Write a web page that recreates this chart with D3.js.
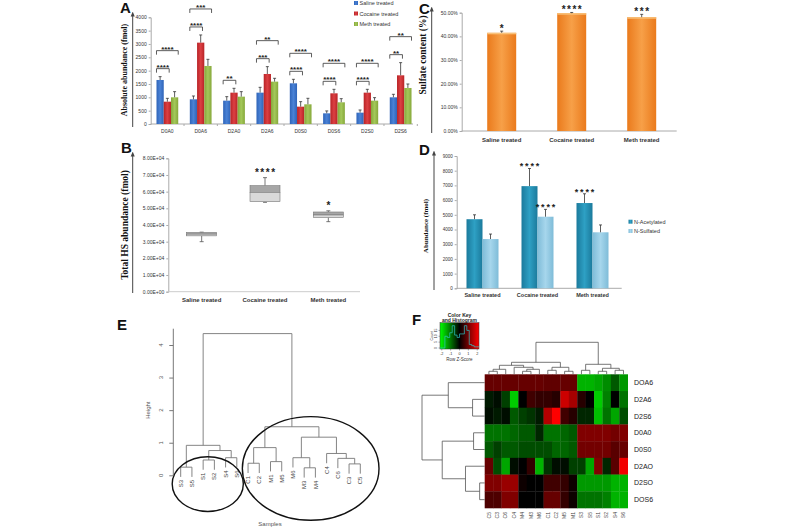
<!DOCTYPE html>
<html><head><meta charset="utf-8">
<script src="https://cdn.jsdelivr.net/npm/d3@7"></script>
<style>body{margin:0;background:#fff} svg{display:block}</style>
</head><body>
<svg id="c" width="800" height="530"></svg>
<script>
// ---------------- DATA ----------------
// Panel A
const catsA = ["D0A0","D0A6","D2A0","D2A6","D0S0","D0S6","D2S0","D2S6"];
const seriesA = ["Saline treated","Cocaine treated","Meth treated"];
const salineA = [1650, 925, 875, 1175, 1525, 400, 425, 1000];
const cocaineA = [837, 3050, 1175, 1875, 650, 1150, 1175, 1825];
const methA = [1000, 2175, 1025, 1588, 738, 813, 875, 1350];
const salineErrA = [125, 125, 150, 200, 150, 90, 100, 113];
const cocaineErrA = [125, 288, 163, 275, 188, 150, 125, 475];
const methErrA = [213, 250, 188, 125, 225, 137, 113, 150];
const sigLowA = ["****","****","**","***","****","****","****","**"];
const sigHighA = ["****","***","","**","****","****","****","**"];
const ticksA = [0,500,1000,1500,2000,2500,3000,3500,4000];
// Panel B
const groupsB = ["Saline treated","Cocaine treated","Meth treated"];
const minB = [30000, 53600, 42000];
const q1B = [33500, 54000, 44500];
const medB = [34500, 59600, 46000];
const q3B = [35500, 63600, 47800];
const maxB = [35700, 68400, 48500];
const sigB = ["", "****", "*"];
const ticksB = [0,10000,20000,30000,40000,50000,60000,70000,80000];
// Panel C
const groupsC = ["Saline treated","Cocaine treated","Meth treated"];
const sulfateC = [41.5, 49.8, 48.1];
const errC = [0.7, 0.3, 1.2];
const sigC = ["*","****","***"];
const ticksC = [0,10,20,30,40,50];
// Panel D
const groupsD = ["Saline treated","Cocaine treated","Meth treated"];
const seriesD = ["N-Acetylated","N-Sulfated"];
const acetylD = [4700, 6950, 5800];
const acetylErrD = [300, 1200, 630];
const sulfD = [3350, 4870, 3810];
const sulfErrD = [340, 500, 500];
const sigAcD = ["", "****", "****"];
const sigSuD = ["", "****", ""];
const ticksD = [0,1000,2000,3000,4000,5000,6000,7000,8000,9000];
// Panel E (hclust-style merges: negative = leaf, positive = earlier merge)
const leavesE = ["S3","S5","S1","S2","S4","S6","C1","C2","M1","M5","M6","M3","M4","C4","C6","C3","C5"];
const mergesE = [[-1,-2,0.25],[-3,-4,0.47],[-5,-6,0.54],[2,3,0.76],[1,4,0.92],
  [-7,-8,0.37],[-9,-10,0.42],[6,7,0.85],[-12,-13,0.23],[-11,9,0.54],
  [-16,-17,0.35],[-15,11,0.52],[-14,12,0.67],[10,13,1.17],[8,14,1.49],[5,15,4.35]];
const ticksE = [0,1,2,3,4];
// Panel F
const heatRows = ["DOA6","D2A6","D2S6","D0A0","D0S0","D2AO","D2SO","DOS6"];
const heatCols = ["C5","C3","C6","C4","M4","M3","M6","C1","C2","M5","M1","S3","S5","S1","S2","S4","S6"];
const heatValues = [
  [0.8,0.8,0.8,0.8,0.8,0.8,0.8,0.75,0.75,0.8,0.8,-1.4,-1.4,-1.3,-1.1,-0.7,-1.2],
  [-0.2,-0.1,-0.5,-1.6,0.0,0.5,0.4,0.4,0.3,1.6,1.3,0.3,0.0,-1.6,-1.0,0.0,-0.9],
  [-0.1,-0.2,-0.1,-0.7,-0.5,-0.4,-0.2,1.4,2.0,0.5,0.3,-0.3,-0.3,-1.5,-0.9,-1.3,-0.6],
  [-0.9,-0.9,-0.9,-0.8,-0.7,-0.7,-0.3,-0.9,-0.9,-0.8,-0.7,1.0,1.0,1.0,1.0,0.9,1.0],
  [-0.7,-0.5,-0.7,-0.7,-0.6,-0.6,-0.6,-0.6,-0.8,-0.8,-0.7,0.9,0.9,0.9,0.9,0.7,0.8],
  [0.8,-0.6,-1.3,-0.1,0.0,0.4,-1.4,-0.4,-0.1,-0.1,-0.5,-0.5,-1.3,1.0,-0.3,0.7,1.9],
  [1.0,1.0,1.2,1.2,0.1,0.0,0.0,0.5,0.5,0.4,0.1,-1.2,-1.2,-1.2,-1.2,-1.4,-1.4],
  [0.6,0.6,1.0,1.0,0.0,0.0,0.0,0.8,0.8,0.4,0.1,-0.9,-0.9,-0.9,-1.0,-1.4,-1.4]];
const colMerges = [[-1,-2,3],[1,-3,5],[-5,-6,3],[3,-7,5],[-4,4,7],[2,5,9],[-8,-9,4],[-10,-11,3],
  [7,8,7],[6,9,12],[-12,-13,4],[-14,-15,3],[-16,-17,4],[12,13,6],[11,14,10],[10,15,32]];
const rowMerges = [[-2,-3,12],[-1,1,36],[-4,-5,11],[-7,-8,5],[-6,4,19],[3,5,42],[2,6,62]];
const keyTicks = [-2,-1,0,1,2];

// ---------------- DRAW ----------------
const svg = d3.select("#c");
const sans = "'Liberation Sans', Arial, sans-serif";
const serif = "'Liberation Serif', 'Times New Roman', serif";
const defs = svg.append("defs");
defs.append("marker").attr("id","arr").attr("viewBox","0 0 10 10").attr("refX",5).attr("refY",5)
  .attr("markerWidth",5).attr("markerHeight",5).attr("orient","auto")
  .append("path").attr("d","M0,1 L10,5 L0,9 z").attr("fill","#444");

function grad(id, c1, c2, c3){
  const g = defs.append("linearGradient").attr("id",id).attr("x1","0").attr("x2","1").attr("y1","0").attr("y2","0");
  g.append("stop").attr("offset","0").attr("stop-color",c1);
  g.append("stop").attr("offset","0.5").attr("stop-color",c2);
  g.append("stop").attr("offset","1").attr("stop-color",c3);
}
grad("gBlue","#2f64b8","#4a82d6","#2f64b8");
grad("gRed","#b82326","#dc4043","#b82326");
grad("gGreen","#86a83a","#a4c85a","#86a83a");
grad("gOrange","#ea7a1c","#f7a048","#ea7a1c");
grad("gTeal","#1b7a9c","#2ea0c4","#1b7a9c");
grad("gLight","#7fbcd8","#a6d6ec","#7fbcd8");
const fmtInt = d3.format("d");

function label(t, x, y){ svg.append("text").attr("x",x).attr("y",y).text(t)
  .attr("font-family",sans).attr("font-weight","bold").attr("font-size",15).attr("fill","#111"); }
function arrowLine(x, yb, yt){ svg.append("line").attr("x1",x).attr("x2",x).attr("y1",yb).attr("y2",yt)
  .attr("stroke","#444").attr("stroke-width",1).attr("marker-end","url(#arr)"); }
function yTitle(t, x, y, size){ svg.append("text").attr("transform",`translate(${x},${y}) rotate(-90)`)
  .attr("text-anchor","middle").attr("font-family",serif).attr("font-weight","bold").attr("font-size",size).attr("fill","#111").text(t); }
function styleAxis(g, fs){
  g.select(".domain").attr("stroke","#aaa");
  g.selectAll(".tick line").attr("stroke","#aaa");
  g.selectAll(".tick text").attr("font-family",sans).attr("font-size",fs).attr("fill","#333");
}
function xAxisExcel(scale, y, x0, x1, fs, bold){
  svg.append("line").attr("x1",x0).attr("x2",x1).attr("y1",y).attr("y2",y).attr("stroke","#aaa");
  scale.domain().forEach(d=>{
    const xb = scale(d) + scale.bandwidth();
    svg.append("line").attr("x1",xb).attr("x2",xb).attr("y1",y).attr("y2",y+2).attr("stroke","#aaa");
    svg.append("text").attr("x",scale(d)+scale.bandwidth()/2).attr("y",y+8.5).attr("text-anchor","middle")
      .attr("font-family",sans).attr("font-size",fs).attr("font-weight",bold?"bold":"normal").attr("fill","#333").text(d);
  });
}
function errBar(x, y0, y1, cap){
  svg.append("line").attr("x1",x).attr("x2",x).attr("y1",y0).attr("y2",y1).attr("stroke","#333").attr("stroke-width",0.8);
  svg.append("line").attr("x1",x-cap).attr("x2",x+cap).attr("y1",y1).attr("y2",y1).attr("stroke","#333").attr("stroke-width",0.8);
}
function stars(t, x, yc, fs, ls){
  if(!t) return;
  svg.append("text").attr("x",x + ls/2).attr("y",yc + fs*0.55).attr("text-anchor","middle")
    .attr("font-family",sans).attr("font-weight","bold").attr("font-size",fs).attr("letter-spacing",ls).attr("fill","#222").text(t);
}

// ---- Panel A ----
label("A", 120, 13);
const xA = d3.scaleBand().domain(catsA).range([150.7, 417.3]);
const xsA = d3.scaleBand().domain(seriesA).range([0, xA.bandwidth()]).paddingInner(0).paddingOuter(0.8);
const yA = d3.scaleLinear().domain([0,4000]).range([124, 17.3]);
const valsA = [salineA, cocaineA, methA], errsA = [salineErrA, cocaineErrA, methErrA];
const fillsA = ["url(#gBlue)","url(#gRed)","url(#gGreen)"];
const gA = svg.append("g").attr("transform","translate(150.7,0)")
  .call(d3.axisLeft(yA).tickValues(ticksA).tickSize(2).tickPadding(2).tickFormat(fmtInt));
styleAxis(gA, 5);
arrowLine(132.7, 127, 14);
yTitle("Absolute abundance (fmol)", 127, 70, 8);
xAxisExcel(xA, 124, 150.7, 413, 5, false);
catsA.forEach((c,i)=>{
  seriesA.forEach((s,j)=>{
    const x = xA(c)+xsA(s), v = valsA[j][i];
    svg.append("rect").attr("x",x).attr("y",yA(v)).attr("width",xsA.bandwidth()).attr("height",yA(0)-yA(v)).attr("fill",fillsA[j]);
    errBar(x+xsA.bandwidth()/2, yA(v), yA(v+errsA[j][i]), 1.5);
  });
  const bw = xsA.bandwidth();
  const xb = xA(c)+xsA(seriesA[0]), xr = xA(c)+xsA(seriesA[1]), xg = xA(c)+xsA(seriesA[2]);
  const low = yA(Math.max(salineA[i]+salineErrA[i], cocaineA[i]+cocaineErrA[i])) - 8;
  const high = low - 18;
  const br = (x0,x1,y)=> svg.append("path").attr("d",`M${x0},${y+4}V${y}H${x1}V${y+4}`).attr("fill","none").attr("stroke","#333").attr("stroke-width",0.8);
  if(sigLowA[i]){ br(xb, xr+bw*0.75, low); stars(sigLowA[i], (xb+xr+bw*0.75)/2, low-3.3, 8, 0); }
  if(sigHighA[i]){ br(xb, xg+bw, high); stars(sigHighA[i], (xb+xg+bw)/2, high-3.3, 8, 0); }
});
seriesA.forEach((s,j)=>{
  const y = 3 + j*10.5;
  svg.append("rect").attr("x",354).attr("y",y-2).attr("width",4).attr("height",4).attr("fill",fillsA[j]);
  svg.append("text").attr("x",359.5).attr("y",y+2).attr("font-family",sans).attr("font-size",5.5).attr("fill","#333").text(s);
});

// ---- Panel C ----
label("C", 419, 14);
const xC = d3.scaleBand().domain(groupsC).range([466.7, 676.7]);
const yC = d3.scaleLinear().domain([0,50]).range([131, 12.7]);
const gC = svg.append("g").attr("transform","translate(461.7,0)")
  .call(d3.axisLeft(yC).tickValues(ticksC).tickSize(2).tickPadding(2).tickFormat(d=>d.toFixed(2)+"%"));
styleAxis(gC, 5);
arrowLine(431.7, 133, 9);
yTitle("Sulfate content (%)", 426, 55, 9.5);
svg.append("line").attr("x1",461.7).attr("x2",676.7).attr("y1",131).attr("y2",131).attr("stroke","#aaa");
groupsC.forEach((g,i)=>{
  const w = xC.bandwidth()*0.414, x = xC(g)+(xC.bandwidth()-w)/2, v = sulfateC[i];
  svg.append("rect").attr("x",x).attr("y",yC(v)).attr("width",w).attr("height",yC(0)-yC(v)).attr("fill","url(#gOrange)");
  svg.append("rect").attr("x",x).attr("y",yC(v)).attr("width",w).attr("height",1.5).attr("fill","#f9c27a");
  errBar(x+w/2, yC(v), yC(v+errC[i]), 1.5);
  stars(sigC[i], x+w/2, yC(v+errC[i])-4.5, 10, 1.5);
  svg.append("text").attr("x",x+w/2).attr("y",142).attr("text-anchor","middle").attr("font-family",sans)
    .attr("font-size",6).attr("font-weight","bold").attr("fill","#333").text(g);
});

// ---- Panel B ----
label("B", 121, 153);
const xB = d3.scaleBand().domain(groupsB).range([170, 360]);
const yB = d3.scaleLinear().domain([0,80000]).range([291.7, 158.3]);
const gB = svg.append("g").attr("transform","translate(168.3,0)")
  .call(d3.axisLeft(yB).tickValues(ticksB).tickSize(2).tickPadding(2).tickFormat(d=> d===0?"0.00E+00":(d/1e4).toFixed(2)+"E+04"));
styleAxis(gB, 5);
arrowLine(132.7, 293, 154);
yTitle("Total  HS abundance (fmol)", 128, 225, 9.5);
svg.append("line").attr("x1",168.3).attr("x2",360).attr("y1",291.7).attr("y2",291.7).attr("stroke","#ccc");
groupsB.forEach((g,i)=>{
  const cx = xB(g)+xB.bandwidth()/2, w = 30;
  svg.append("line").attr("x1",cx).attr("x2",cx).attr("y1",yB(maxB[i])).attr("y2",yB(q3B[i])).attr("stroke","#555").attr("stroke-width",0.8);
  svg.append("line").attr("x1",cx).attr("x2",cx).attr("y1",yB(q1B[i])).attr("y2",yB(minB[i])).attr("stroke","#555").attr("stroke-width",0.8);
  [maxB[i],minB[i]].forEach(v=> svg.append("line").attr("x1",cx-2).attr("x2",cx+2).attr("y1",yB(v)).attr("y2",yB(v)).attr("stroke","#555").attr("stroke-width",0.8));
  svg.append("rect").attr("x",cx-w/2).attr("y",yB(q3B[i])).attr("width",w).attr("height",yB(medB[i])-yB(q3B[i])).attr("fill","#a6a6a6").attr("stroke","#777").attr("stroke-width",0.6);
  svg.append("rect").attr("x",cx-w/2).attr("y",yB(medB[i])).attr("width",w).attr("height",yB(q1B[i])-yB(medB[i])).attr("fill","#d9d9d9").attr("stroke","#777").attr("stroke-width",0.6);
  stars(sigB[i], cx, yB(maxB[i])-7, 10, 1.5);
  svg.append("text").attr("x",cx).attr("y",302).attr("text-anchor","middle").attr("font-family",sans)
    .attr("font-size",6).attr("font-weight","bold").attr("fill","#333").text(g);
});

// ---- Panel D ----
label("D", 419, 155);
const xD = d3.scaleBand().domain(groupsD).range([455, 620]);
const yD = d3.scaleLinear().domain([0,9000]).range([288.3, 156]);
const gD = svg.append("g").attr("transform","translate(456.7,0)")
  .call(d3.axisLeft(yD).tickValues(ticksD).tickSize(2).tickPadding(2).tickFormat(fmtInt));
styleAxis(gD, 4.5);
arrowLine(434, 290, 153);
yTitle("Abundance (fmol)", 428, 226, 7);
svg.append("line").attr("x1",456.7).attr("x2",621.7).attr("y1",288.3).attr("y2",288.3).attr("stroke","#aaa");
groupsD.forEach((g,i)=>{
  const cx = xD(g)+xD.bandwidth()/2, w = 16;
  const bars = [[acetylD[i],acetylErrD[i],cx-w,"url(#gTeal)",sigAcD[i]],[sulfD[i],sulfErrD[i],cx,"url(#gLight)",sigSuD[i]]];
  bars.forEach(([v,e,x,f,s])=>{
    svg.append("rect").attr("x",x).attr("y",yD(v)).attr("width",w).attr("height",yD(0)-yD(v)).attr("fill",f);
    errBar(x+w/2, yD(v), yD(v+e), 1.5);
    stars(s, x+w/2, yD(v+e)-4, 9, 1.8);
  });
  svg.append("text").attr("x",cx).attr("y",297).attr("text-anchor","middle").attr("font-family",sans)
    .attr("font-size",5.5).attr("font-weight","bold").attr("fill","#333").text(g);
});
seriesD.forEach((s,j)=>{
  const y = 221.7 + j*9.3;
  svg.append("rect").attr("x",628.5).attr("y",y-2).attr("width",4).attr("height",4).attr("fill",j?"url(#gLight)":"url(#gTeal)");
  svg.append("text").attr("x",634).attr("y",y+2).attr("font-family",sans).attr("font-size",5.5).attr("fill","#333").text(s);
});

// ---- Panel E ----
label("E", 117, 330);
const xE = d3.scalePoint().domain(leavesE).range([180.7, 360.3]);
const yE = d3.scaleLinear().domain([0,4]).range([475.3, 345]);
const hangE = 0.3;
function layout(merges, pos){
  const nodes = [];
  const get = i => i<0 ? {x:pos(-i-1), h:null, leaf:-i-1} : nodes[i-1];
  merges.forEach(([a,b,h])=>{ const A=get(a), B=get(b); nodes.push({x:(A.x+B.x)/2, h, A, B}); });
  return nodes;
}
const nodesE = layout(mergesE, i=>xE(leavesE[i]));
nodesE.forEach(n=>{
  const yh = yE(n.h);
  const endY = c => c.h===null ? yE(n.h-hangE) : yE(c.h);
  svg.append("path").attr("d",`M${n.A.x},${endY(n.A)}V${yh}H${n.B.x}V${endY(n.B)}`)
    .attr("fill","none").attr("stroke","#777").attr("stroke-width",0.9);
  [n.A,n.B].forEach(c=>{
    if(c.h===null){
      svg.append("text").attr("transform",`translate(${c.x},${endY(c)+3}) rotate(-90)`).attr("text-anchor","end").attr("dy","0.35em")
        .attr("font-family",sans).attr("font-size",6).attr("fill","#444").text(leavesE[c.leaf]);
    }
  });
});
const gE = svg.append("g").attr("transform","translate(173.3,0)")
  .call(d3.axisLeft(yE).tickValues(ticksE).tickSize(4).tickFormat(""));
gE.select(".domain").remove();
gE.selectAll(".tick line").attr("stroke","#777");
svg.append("line").attr("x1",173.3).attr("x2",173.3).attr("y1",yE(0)).attr("y2",yE(4.5)).attr("stroke","#777");
ticksE.forEach(t=> svg.append("text").attr("transform",`translate(163,${yE(t)}) rotate(-90)`).attr("text-anchor","middle")
  .attr("font-family",sans).attr("font-size",6).attr("fill","#555").text(t));
svg.append("text").attr("transform",`translate(150,${yE(2)}) rotate(-90)`).attr("text-anchor","middle")
  .attr("font-family",sans).attr("font-size",6).attr("fill","#555").text("Height");
svg.append("text").attr("x",270).attr("y",526).attr("text-anchor","middle")
  .attr("font-family",sans).attr("font-size",6).attr("fill","#555").text("Samples");
const ell = (l0,l1,padL,padR,hc,hr)=>{
  const x0 = xE(l0)-padL, x1 = xE(l1)+padR;
  svg.append("ellipse").attr("cx",(x0+x1)/2).attr("cy",yE(hc)).attr("rx",(x1-x0)/2).attr("ry",yE(0)-yE(hr))
    .attr("fill","none").attr("stroke","#111").attr("stroke-width",1.4);
};
ell("S3","S6",8.5,6.5,-0.27,0.84);
ell("C1","C5",5.7,18.7,0.21,1.59);

// ---- Panel F ----
label("F", 412, 325);
const hx0 = 484.7, hx1 = 627.7, hy0 = 374.3, hy1 = 508;
const xF = d3.scaleBand().domain(d3.range(heatCols.length)).range([hx0,hx1]);
const yF = d3.scaleBand().domain(d3.range(heatRows.length)).range([hy0,hy1]);
const colF = d3.scaleLinear().domain([-2,0,2]).range(["#00ff00","#000000","#ff0000"]).clamp(true);
heatValues.forEach((row,r)=>row.forEach((v,c)=>{
  svg.append("rect").attr("x",xF(c)).attr("y",yF(r)).attr("width",xF.bandwidth()+0.3).attr("height",yF.bandwidth()+0.3).attr("fill",colF(v));
}));
heatRows.forEach((t,r)=> svg.append("text").attr("x",634).attr("y",yF(r)+yF.bandwidth()/2).attr("dy","0.35em")
  .attr("font-family",sans).attr("font-size",7).attr("fill","#222").text(t));
heatCols.forEach((t,c)=> svg.append("text").attr("transform",`translate(${xF(c)+xF.bandwidth()/2},${hy1+4}) rotate(-90)`)
  .attr("text-anchor","end").attr("dy","0.35em").attr("font-family",sans).attr("font-size",5).attr("fill","#444").text(t));
const hColScale = d3.scaleLinear().domain([0,32]).range([hy0, 342.3]);
layout(colMerges, i=>xF(i)+xF.bandwidth()/2).forEach(n=>{
  const e = c => c.h===null ? hy0 : hColScale(c.h);
  svg.append("path").attr("d",`M${n.A.x},${e(n.A)}V${hColScale(n.h)}H${n.B.x}V${e(n.B)}`)
    .attr("fill","none").attr("stroke","#555").attr("stroke-width",0.8);
});
const hRowScale = d3.scaleLinear().domain([0,62]).range([hx0, 422]);
layout(rowMerges, i=>yF(i)+yF.bandwidth()/2).forEach(n=>{
  const e = c => c.h===null ? hx0 : hRowScale(c.h);
  svg.append("path").attr("d",`M${e(n.A)},${n.A.x}H${hRowScale(n.h)}V${n.B.x}H${e(n.B)}`)
    .attr("fill","none").attr("stroke","#555").attr("stroke-width",0.8);
});
// color key
const kx0 = 440, kx1 = 479, ky0 = 322.7, ky1 = 349;
const kg = defs.append("linearGradient").attr("id","gKey");
[[0,"#00ff00"],[0.5,"#000000"],[1,"#ff0000"]].forEach(([o,c])=>kg.append("stop").attr("offset",o).attr("stop-color",c));
svg.append("rect").attr("x",kx0).attr("y",ky0).attr("width",kx1-kx0).attr("height",ky1-ky0).attr("fill","url(#gKey)").attr("stroke","#333").attr("stroke-width",0.5);
const xK = d3.scaleLinear().domain([-2.2,2.2]).range([kx0,kx1]);
const bins = d3.bin().domain([-2.2,2.2]).thresholds(d3.range(-2.2,2.2,0.275))(heatValues.flat());
const yK = d3.scaleLinear().domain([0, d3.max(bins,b=>b.length)]).range([ky1-1, ky0+3]);
const histPts = [];
bins.forEach(b=>{ histPts.push([xK(b.x0), yK(b.length)]); histPts.push([xK(b.x1), yK(b.length)]); });
svg.append("path").attr("d",d3.line()(histPts)).attr("fill","none").attr("stroke","#2ec4c4").attr("stroke-width",0.7);
keyTicks.forEach(t=>{
  svg.append("line").attr("x1",xK(t)).attr("x2",xK(t)).attr("y1",ky1).attr("y2",ky1+1.5).attr("stroke","#333").attr("stroke-width",0.4);
  svg.append("text").attr("x",xK(t)).attr("y",ky1+6).attr("text-anchor","middle").attr("font-family",sans).attr("font-size",3.8).attr("fill","#333").text(t);
});
yK.ticks(4).forEach(t=>{
  svg.append("line").attr("x1",kx0-1.5).attr("x2",kx0).attr("y1",yK(t)).attr("y2",yK(t)).attr("stroke","#333").attr("stroke-width",0.4);
  svg.append("text").attr("transform",`translate(${kx0-3},${yK(t)}) rotate(-90)`).attr("text-anchor","middle").attr("font-family",sans).attr("font-size",3.5).attr("fill","#333").text(t);
});
svg.append("text").attr("transform",`translate(${kx0-7},${(ky0+ky1)/2}) rotate(-90)`).attr("text-anchor","middle").attr("font-family",sans).attr("font-size",3.5).attr("fill","#333").text("Count");
svg.append("text").attr("x",(kx0+kx1)/2).attr("y",ky1+12).attr("text-anchor","middle").attr("font-family",sans).attr("font-size",4.5).attr("fill","#333").text("Row Z-Score");
svg.append("text").attr("x",(kx0+kx1)/2).attr("y",317).attr("text-anchor","middle").attr("font-family",sans).attr("font-size",5).attr("font-weight","bold").attr("fill","#222").text("Color Key");
svg.append("text").attr("x",(kx0+kx1)/2).attr("y",322).attr("text-anchor","middle").attr("font-family",sans).attr("font-size",5).attr("font-weight","bold").attr("fill","#222").text("and Histogram");
</script></body></html>
